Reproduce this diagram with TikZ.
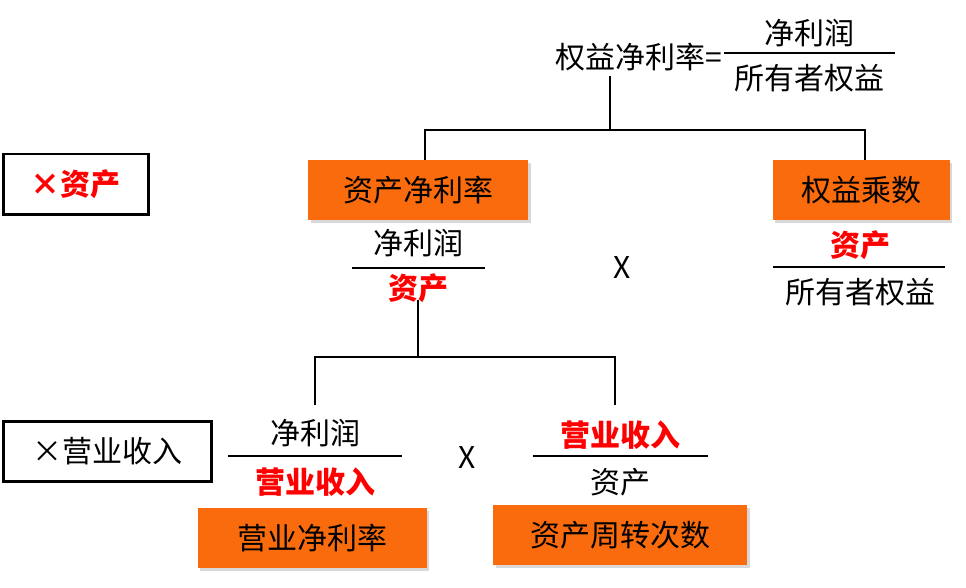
\documentclass[tikz,border=0pt]{standalone}
\usepackage{fontspec}
\setmainfont{Noto Sans CJK SC}
\usetikzlibrary{positioning,shadows}
\definecolor{boxorange}{HTML}{F96B0C}
\tikzset{
  txt/.style={font=\fontsize{30}{34}\selectfont, inner sep=0pt},
  red txt/.style={txt, text=red, font=\fontsize{30}{34}\selectfont\bfseries},
  ratio/.style={draw=none, fill=boxorange, drop shadow={fill=gray!60}, font=\fontsize{30}{34}\selectfont, minimum height=60pt},
  label box/.style={draw=black, line width=2.5pt, font=\fontsize{30}{34}\selectfont, minimum height=60pt, anchor=north west},
  link/.style={line width=2.2pt},
  bar/.style={line width=1.8pt}
}
\begin{document}
\begin{tikzpicture}[x=1pt,y=-1pt]
	\useasboundingbox (0,0) rectangle (966,588);
	% top formula
	\node[txt, anchor=east] (roe) at (722,57) {权益净利率=};
	\node[txt] (topnum) at (809,33) {净利润};
	\node[txt] (topden) at (809,78) {所有者权益};
	\draw[bar] (724,53) -- (895,53);
	% first split
	\coordinate (s1) at (610,130);
	\node[ratio, minimum width=220pt] (ra) at (418,190) {资产净利率};
	\node[ratio, minimum width=177pt] (em) at (861,190) {权益乘数};
	\draw[link] (610,76) -- (s1);
	\draw[link] (425,160) |- (s1) -| (865,160);
	\node[label box, minimum width=145pt, text=red, font=\fontsize{30}{34}\selectfont\bfseries] (xa) at (2,153) {×资产};
	% fractions level 1
	\node[txt] (ranum) at (418,243) {净利润};
	\node[red txt] (raden) at (418,288) {资产};
	\draw[bar] (352,268) -- (485,268);
	\node[txt] (x1) at (622,268) {X};
	\node[red txt] (emnum) at (860,245) {资产};
	\node[txt] (emden) at (860,292) {所有者权益};
	\draw[bar] (773,267) -- (945,267);
	% second split
	\coordinate (s2) at (418,357);
	\draw[link] (418,300) -- (s2);
	\draw[link] (315,405) |- (s2) -| (615,405);
	\node[label box, minimum width=208pt] (xr) at (2,420) {×营业收入};
	\node[txt] (pmnum) at (315,433) {净利润};
	\node[red txt] (pmden) at (315,482) {营业收入};
	\draw[bar] (228,456) -- (402,456);
	\node[txt] (x2) at (467,458) {X};
	\node[red txt] (atnum) at (620,435) {营业收入};
	\node[txt] (atden) at (620,482) {资产};
	\draw[bar] (533,456) -- (708,456);
	\node[ratio, minimum width=229pt] (pm) at (312,538) {营业净利率};
	\node[ratio, minimum width=254pt] (at) at (620,535) {资产周转次数};
\end{tikzpicture}
\end{document}
